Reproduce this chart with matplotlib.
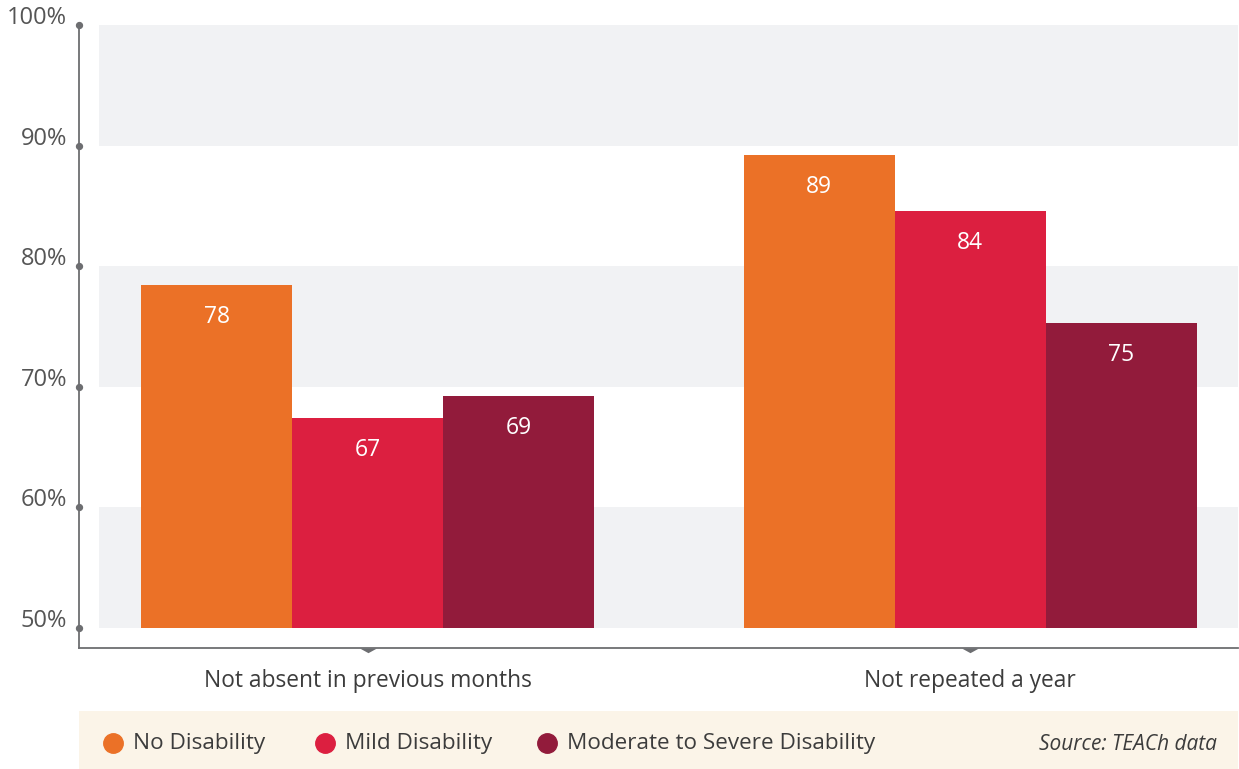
import matplotlib
matplotlib.use("Agg")
import matplotlib.pyplot as plt
from matplotlib.patches import Rectangle
from matplotlib.path import Path
import numpy as np

categories = ["Not absent in previous months", "Not repeated a year"]
series_names = ["No Disability", "Mild Disability", "Moderate to Severe Disability"]
no_disability = [78.4, 89.2]
mild_disability = [67.4, 84.6]
moderate_severe = [69.2, 75.3]
value_labels = [["78", "89"], ["67", "84"], ["69", "75"]]
yticks = [50, 60, 70, 80, 90, 100]
ytick_labels = ["50%", "60%", "70%", "80%", "90%", "100%"]
source_text = "Source: TEACh data"

colors = ["#EB7127", "#DC1F40", "#921B3B"]
band_color = "#F1F2F4"
axis_color = "#6D6E71"
text_color = "#3C3C3C"

plt.rcParams['font.family'] = ['Open Sans', 'DejaVu Sans']

W, H = 1239, 769
fig = plt.figure(figsize=(W / 100, H / 100), dpi=100)
ax = fig.add_axes([79 / W, 1 - 648 / H, (1238 - 79) / W, (648 - 25) / H])

ymin = 50 - 20 / 12.06
ax.set_ylim(ymin, 100)
xl, xr = -0.480, 1.445
ax.set_xlim(xl, xr)

# background bands
band_x0 = -0.447
for lo in [50, 70, 90]:
    ax.add_patch(Rectangle((band_x0, lo), xr - band_x0, 10, facecolor=band_color,
                           edgecolor='none', zorder=0))

series = [no_disability, mild_disability, moderate_severe]
x = np.arange(len(categories))
bw = 0.2508
for i, (vals, col) in enumerate(zip(series, colors)):
    pos = x + (i - 1) * bw
    ax.bar(pos, np.array(vals) - 50, bottom=50, width=bw, color=col, zorder=2,
           linewidth=0)
    for px, v, lab in zip(pos, vals, value_labels[i]):
        ax.annotate(lab, (px, v), xytext=(0, -32), textcoords='offset pixels',
                    ha='center', va='center', color='white', fontsize=16.5, zorder=3)

for s in ['top', 'right']:
    ax.spines[s].set_visible(False)
ax.spines['left'].set_color(axis_color)
ax.spines['bottom'].set_color(axis_color)
ax.spines['left'].set_linewidth(1.3)
ax.spines['bottom'].set_linewidth(1.3)
ax.spines['left'].set_bounds(ymin, 100)

ax.set_yticks(yticks)
ax.set_yticklabels([])
ax.tick_params(axis='y', length=0)
ax.set_xticks(x)
ax.set_xticklabels([])
ax.tick_params(axis='x', length=0)

# tick dots on y axis
ax.scatter([xl] * len(yticks), yticks, s=18, color=axis_color, zorder=5, clip_on=False)
for t, lab in zip(yticks, ytick_labels):
    ax.annotate(lab, (xl, t), xytext=(-12, 7), textcoords='offset pixels',
                ha='right', va='center', color="#555555", fontsize=17,
                annotation_clip=False)

# flat triangles below x axis at group centres
tri = Path([(-1.0, 0.0), (1.0, 0.0), (0.0, -0.55), (-1.0, 0.0)],
           [Path.MOVETO, Path.LINETO, Path.LINETO, Path.CLOSEPOLY])
ax.scatter(x, [ymin] * len(x), marker=tri, s=150, color=axis_color, zorder=5,
           clip_on=False, linewidths=0)
for xi, cat in zip(x, categories):
    ax.annotate(cat, (xi, ymin), xytext=(0, -33), textcoords='offset pixels',
                ha='center', va='center', color=text_color, fontsize=16.4,
                annotation_clip=False)

# legend box
fig.patches.append(Rectangle((79 / W, 0), (1238 - 79) / W, 58 / H,
                             transform=fig.transFigure, facecolor="#FBF4E8",
                             edgecolor='none', zorder=0))
legend_y = 1 - 744 / H
marker_x = [113, 325, 547]
for mx, name, col in zip(marker_x, series_names, colors):
    fig.add_artist(plt.Line2D([mx / W], [1 - 743 / H], marker='o', markersize=14,
                              color=col, linestyle='none', transform=fig.transFigure))
    fig.text((mx + 20) / W, legend_y, name, ha='left', va='center',
             color=text_color, fontsize=16.2)
fig.text(1217 / W, legend_y, source_text, ha='right', va='center',
         color=text_color, fontsize=15, style='italic')

fig.savefig("out.png", dpi=100)
